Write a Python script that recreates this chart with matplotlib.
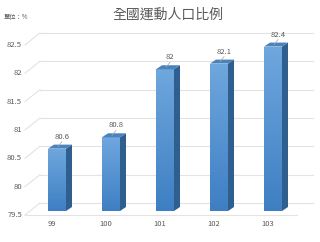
import numpy as np
import matplotlib
matplotlib.use('Agg')
import matplotlib.pyplot as plt
from matplotlib.patches import Polygon

plt.rcParams['font.family'] = ['Noto Sans CJK TC', 'DejaVu Sans']

years = ['99', '100', '101', '102', '103']
values = [80.6, 80.8, 82.0, 82.1, 82.4]
yticks = [79.5, 80, 80.5, 81, 81.5, 82, 82.5]
title = '全國運動人口比例'
unit = '單位：%'

# pixel <-> data helpers (axes covers whole figure)
PX_X0, PX_PER_CAT = 57, 54.0
PX_Y0, PX_PER_UNIT, BASE = 211, 56.7, 79.5
W, H = 320, 242


def dx(px):
    return px / PX_PER_CAT


def dy(px):
    return px / PX_PER_UNIT


def X(px):
    return (px - PX_X0) / PX_PER_CAT


def Y(px):
    return BASE + (PX_Y0 - px) / PX_PER_UNIT


fig = plt.figure(figsize=(3.2, 2.42), dpi=100)
ax = fig.add_axes([0, 0, 1, 1])
ax.set_xlim(X(0), X(W))
ax.set_ylim(Y(H), Y(0))
ax.axis('off')

grid_c = '#e3e3e3'
txt_c = '#595959'

# walls / gridlines with a little perspective
for t in yticks:
    yf = t - dy(4)
    yb = t + dy(8)
    ax.plot([X(25), X(40)], [yf, yb], color=grid_c, lw=0.8, zorder=1)
    ax.plot([X(40), X(313)], [yb, yb], color=grid_c, lw=0.8, zorder=1)
    ax.text(X(22), yf, f'{t:g}', ha='right', va='center', fontsize=5.5, color=txt_c)
ax.plot([X(25), X(297)], [BASE - dy(4), BASE - dy(4)], color=grid_c, lw=0.8, zorder=1)

x = np.arange(len(years))
bw = dx(18)
ddx, ddy = dx(6), dy(4)
grad = np.linspace(0, 1, 100).reshape(-1, 1)
cmap = matplotlib.colors.LinearSegmentedColormap.from_list('b', ['#3e7fc3', '#6fa7de'])

bars = ax.bar(x, np.array(values) - BASE, bottom=BASE, width=bw,
              color='#5393d4', edgecolor='none', zorder=3)
for xi, v, b in zip(x, values, bars):
    im = ax.imshow(grad, cmap=cmap, origin='lower', aspect='auto',
                   extent=[xi - bw / 2, xi + bw / 2, BASE, v], zorder=3)
    im.set_clip_path(b)
    side = Polygon([(xi + bw / 2, BASE), (xi + bw / 2, v), (xi + bw / 2 + ddx, v + ddy),
                    (xi + bw / 2 + ddx, BASE + ddy)], closed=True,
                   facecolor='#2f5f8e', edgecolor='none', zorder=3)
    top = Polygon([(xi - bw / 2, v), (xi + bw / 2, v), (xi + bw / 2 + ddx, v + ddy),
                   (xi - bw / 2 + ddx, v + ddy)], closed=True,
                  facecolor='#4a82bd', edgecolor='none', zorder=4)
    ax.add_patch(side)
    ax.add_patch(top)
    # leader line and value label
    ax.plot([xi + dx(1), xi + dx(5)], [v + dy(2), v + dy(7)], color='#a6a6a6', lw=0.5, zorder=5)
    ax.text(xi + dx(5), v + dy(12), f'{v:g}', ha='center', va='center',
            fontsize=5.5, color=txt_c, zorder=5)
    ax.text(xi - dx(5), Y(224), years[int(xi)], ha='center', va='center',
            fontsize=5.5, color=txt_c)

ax.text(X(168), Y(15), title, ha='center', va='center', fontsize=10, color=txt_c)
ax.text(X(4), Y(17), unit, ha='left', va='center', fontsize=4.5, color=txt_c)

fig.savefig('out.png', dpi=100)
